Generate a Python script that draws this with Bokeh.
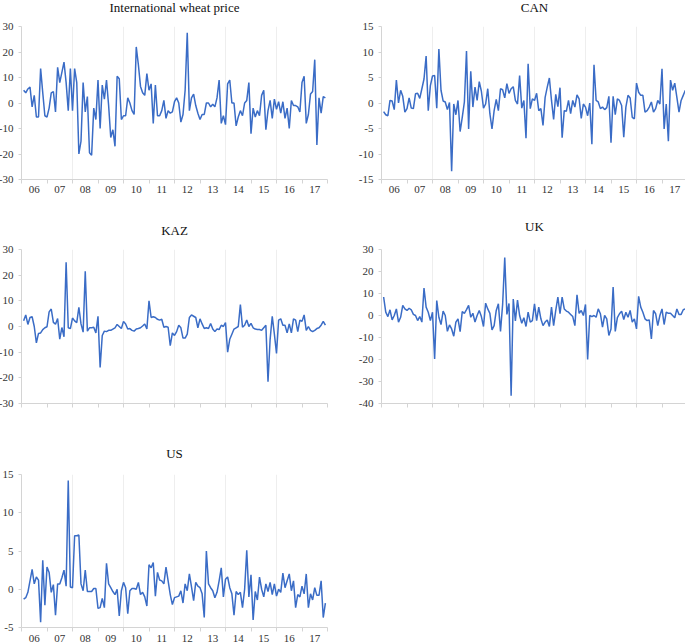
from bokeh.plotting import figure
from bokeh.layouts import column, row
from bokeh.models import Range1d, FixedTicker
from bokeh.embed import file_html
from bokeh.resources import INLINE

# ---- data: monthly changes, Feb 2006 .. Dec 2017 ----
start_year = 2006
first_month = 1  # 0 = January, so the series starts in February 2006
year_ticks = list(range(2006, 2019))
year_labels = ["06", "07", "08", "09", "10", "11", "12", "13", "14", "15", "16", "17"]

wheat = [5, 4, 5.5, 6.2, -1.5, 3, -5.5, -5.5, 13.5, 4, -5,
         -5.5, -2, 4, 4.5, -3.5, 14, 8, 12, 16, 8, -3, 13.5,
         -3, 13.5, 8, -20, -15, 8, -3.5, 2.5, -19.5, -20.5, -2, -6.5,
         9, -10, 7, 1.5, 9, -1, -13.5, -10.5, -17, 10.5, 9.5, -6.5,
         -5, -5, 2, 0, -3, -4.5, 22, 15, 6.5, 4, 3, 11.5,
         5, 7.5, -8, 7, -5, -5, -3, 1, -6, -3, -4, -3.5,
         0.5, 2, 0, -7.5, -4.5, 5, 27.5, -3, 2, 3.5, -1, -4,
         -6.5, -4.5, -4.5, 0, 0, -1.5, -0.5, -1.5, 2, 9, -8, -5,
         -8.5, 7.5, 9, 0, 0, -9, -5.5, -3, -5, 0, 1, 8,
         -12, -2, -5.5, -3, -5, 3, 5, -10.5, -3, 1, -6, 1.5,
         -2.5, 0.5, -4, 0.5, -6, -2, -10, 1, -1, -1, -1.5, -3.5,
         8, 10.5, -8, -4.5, 3.5, 4.5, 17, -16.5, 2, -4, 2.5, 2]

can = [-1.7, -2.3, -2.5, 0.5, 0.4, -1.3, 4.5, 0, 2.5, 1.3,
       -1.8, -1.1, 1, -1, -1.1, 1.8, 1.9, 0.9, 2.8, 4.7,
       9.2, -1.5, 3.4, 5.3, 5.4, -1, 10.6, 2.5, 0.4, 0.2,
       -1.3, 0.1, -13.4, -0.2, -2.3, 0.5, -5.6, -2.8, 0.2, 10.2,
       -5.1, 6.2, -0.8, 3.1, 0.5, 4.2, 2.3, -1, -0.2, 2.8,
       -2.1, -5.1, -1.5, 0.7, -1.5, 2.8, 2.6, 1, 3.8, 1.9,
       2.8, 3.2, 0.5, -0.2, 5.4, -1, 0.5, -6.9,
       7.7, -1.1, 0.8, 0.5, 1.9, -1.5, -1.1, -4.4, 1.1, 3.1,
       4.9, 0.5, -3.2, 1.7, -0.7, 3.0, -6.8, -1.5, -1.6, 0.5,
       -2.1, 0.5, -0.8, 1.6, 0.8, -3.0, -0.2, -0.8, -2.5, 0,
       -8.1, 7.5, 0.5, 0.2, -1.1, -0.8, -1.3, -0.9, 1.3, -7.8,
       1.3, -2.3, 0.8, 0.5, -0.5, -6.7, -0.8, 1.5, 1.0, -2.8,
       -3.1, 3.9, 2.1, 1.5, 1.5, -1.8, -1.5, -0.8, 0.2, -1.8,
       -1.1, 0.5, -0.2, 6.7, -5.1, -0.2, -7.5, 4.5, 2.5, 3.9,
       1.1, -1.8, 0.5, 1.5, 2.5]

kaz = [2.2, 4.5, 0.8, 3.5, 3.8, 0, -6.4, -2.7, -2.5, -1.2, -0.5,
       -0.1, 5.7, 6.8, 1.6, 0.9, 3.1, -4.9, -0.4, -4, 25, -0.5, -0.8,
       3.3, 2.2, 1.5, 7.5, 1, -2.2, 21.5, -1.8, -0.5, -0.5, -0.3, -2.5,
       4, -16, -3.5, -1.8, -2, -1.5, -1.5, -1, -0.5, 0.8, 0, -0.8,
       2, 1, -1, -0.8, -1.5, -1.8, -1, -0.8, -0.5, 0.2, 1, -1,
       10, 3.5, 3.8, 3.5, 2.8, 2.5, 2.8, -0.3, 0, -0.3, -7.5, -2.5,
       -3.5, -2, 0.5, -0.5, -4.5, -4.5, -3, 3.5, 4.5, 4, 3.5, -0.5,
       3, 1, -0.8, -0.5, -0.8, 1.2, -1, -2, -1, -1.2, 0.5, 0,
       1.5, -10, -5, -3, -1, -0.5, 0, 8.5, -0.3, 0.5, 2.5, 0,
       1.2, -0.5, -1, -1.2, -1.2, -1.5, -0.5, 0.5, -21.5, -5, 4, -3,
       -10.5, 2.5, 3, 0.5, 0.5, -2.5, 1, -2.5, 3, 2.5, -2, 2.5,
       2, 4.5, -1.5, 0, -1.5, -2, -1.5, -0.8, -0.5, 0.5, 2, 0.5]

uk = [8.4, 1.5, -0.5, 2.6, -2, 0, 3, -3, -0.8, 4.6, 3,
      2.3, 3.3, 2.6, 0.5, 0, -2.3, -0.5, -3, 12.5, 3.8, 1.5, -2.3,
      1.5, -19.8, 6.8, -0.8, -4.1, 2, 0, -7.2, -4.3, -6.1, -9.4, -3,
      -1.5, -7.3, 1.8, 1, 2.7, 4.6, -0.8, 1, -3, 0, 2.3, -0.5,
      -5, 5.6, 3, 1, -6.5, -4.6, 2.3, 5.3, -7.2, 5, 26.3, 0.5,
      5.5, -36.5, 7.5, -2.5, 7, 0, -3.5, -1, -5,
      1.5, -3, -2.3, 5.3, -2.3, 3.8, -1.5, -4.6, -3, -2,
      -5, 3.8, -4.6, 2.3, 8.4, 0.8, 8.4, 3, 2, 1.5,
      0.5, -0.5, -4.6, 9.4, 1, 2.3, 0, 5, -20, 0,
      -0.5, 0, -0.8, 3, 0.8, -5.3, 0, -1.5, -9.1, -6.1,
      12.9, -7.2, -1, 0.8, 2, -1.8, 1.5, -0.8, 2.3, -3,
      -1.5, -6.1, 8.7, 3.8, 1.5, -1.5, -2.3, -2, -10.7, 2.3,
      0.8, -4.6, 0, 3, -4.1, 1.5, 1, 1, 0, -1,
      3, 0.5, 0.5, 2.6, 3]

us = [-1.3, -1.1, -0.4, 1.1, 2.6, 0.7, 1.6, 1.2, -4.3, 3.8,
      -2.1, 2.9, 2.2, -0.4, 0.6, -3.4, 0.7, 0.7, 1.5, 2.5,
      0.4, 14.2, 0.3, 0.2, 7, 7, 7.1, 0.7, -0.2, 2.5,
      -0.3, -0.3, -0.3, 0.1, 0.1, -2.5, -2.4, -1.2, -2.4, 3.4,
      0.7, 0.2, -0.3, -0.7, 0, -3.5, -0.2, 0.9, 0.2, -3.2,
      -0.2, 0.1, 0.1, 0, 0.9, -0.7, -0.4, -1, -2.2, 3.2,
      2.8, 3.5, -0.9, 2.2, 1.2, 1.1, 0.7, 2.9, 1.1, -0.7,
      -2, -1.1,
      -1, -0.9, -0.2, -1.8, 0.7, -0.2, 2, 0.3, -1.5, 0.9,
      0.4, 0.2, -0.6, -3.7, 5, 0.7, 0.2, -0.2, -1.1, -0.4,
      1.1, 2.8, -1, 1.3, 1.6, 0.2, -0.6, -3.4, -0.3, -0.7,
      -0.4, -2.4, 0, 5.1, -1, 1.9, -4, -0.3, -1.4, 1.6,
      0, -1, 0.7, -0.3, 0.9, -0.7, 0.7, -0.9, 0, -0.4,
      2.1, 0.2, 1.1, 2, -0.2, 1.1, -2.4, -0.7, -1, 0.4,
      -0.6, 2, -2.4, -0.6, -1.4, 0.2, -0.8, -0.8, 1.1, -3.7,
      -1.8]

titles = ["International wheat price", "CAN", "KAZ", "UK", "US"]
y_limits = [(-30, 30, 10), (-15, 15, 5), (-30, 30, 10), (-40, 30, 10), (-5, 15, 5)]

LINE = "#3a6cc6"
AXIS = "#d4d4d4"
TEXT = "#333333"
FONT = "Liberation Serif"


def panel(title, values, lims, fw, fh, bl, br, bt, bb, xlabels, tstand, lstand):
    ylo, yhi, ystep = lims
    p = figure(frame_width=fw, frame_height=fh,
               min_border_left=bl, min_border_right=br,
               min_border_top=bt, min_border_bottom=bb,
               x_range=Range1d(year_ticks[0], year_ticks[-1]),
               y_range=Range1d(ylo, yhi),
               output_backend="svg", toolbar_location=None)
    xs = [start_year + (first_month + i) / 12 for i in range(len(values))]
    p.line(xs, values, line_color=LINE, line_width=1.5)

    p.title.text = title
    p.title.align = "center"
    p.title.text_font = FONT
    p.title.text_font_size = "13px"
    p.title.text_font_style = "normal"
    p.title.text_color = "#111111"
    p.title.standoff = tstand

    p.outline_line_color = None
    p.background_fill_color = "white"
    p.border_fill_color = "white"

    mids = [y + 0.5 for y in year_ticks[:-1]]
    if xlabels:
        p.xaxis.ticker = FixedTicker(ticks=mids, minor_ticks=year_ticks)
        p.xaxis.major_label_overrides = {m: lab for m, lab in zip(mids, year_labels)}
    else:
        p.xaxis.ticker = FixedTicker(ticks=[], minor_ticks=year_ticks)
    p.xaxis.major_tick_out = 0
    p.xaxis.major_tick_in = 0
    p.xaxis.minor_tick_out = 4
    p.xaxis.minor_tick_in = 0
    p.xaxis.minor_tick_line_color = AXIS
    p.xaxis.axis_line_color = AXIS
    p.xaxis.major_label_standoff = lstand

    yt = list(range(ylo, yhi + 1, ystep))
    p.yaxis.ticker = FixedTicker(ticks=yt)
    p.yaxis.major_label_overrides = {t: str(t) for t in yt}
    p.yaxis.major_tick_out = 3
    p.yaxis.major_tick_in = 0
    p.yaxis.minor_tick_out = 0
    p.yaxis.minor_tick_in = 0
    p.yaxis.major_tick_line_color = AXIS
    p.yaxis.axis_line_color = AXIS
    p.yaxis.major_label_standoff = 5

    for ax in (p.xaxis, p.yaxis):
        ax.major_label_text_font = FONT
        ax.major_label_text_font_size = "11px"
        ax.major_label_text_color = TEXT

    p.xgrid.ticker = FixedTicker(ticks=[2008, 2010, 2012, 2014, 2016])
    p.xgrid.grid_line_color = "#eeeeee"
    p.ygrid.visible = False
    return p


# frames: row 1 top at 26, row 2 top at 249, row 3 top at 474 (page pixels)
p1 = panel(titles[0], wheat, y_limits[0], 306, 153, 29, 28, 41, 21, True, 24, 2)
p2 = panel(titles[1], can, y_limits[1], 306, 153, 23, 1, 41, 21, True, 24, 2)
p3 = panel(titles[2], kaz, y_limits[2], 306, 154, 29, 28, 49, 27, False, 24, 2)
p4 = panel(titles[3], uk, y_limits[3], 306, 154, 23, 1, 49, 27, False, 32, 2)
p5 = panel(titles[4], us, y_limits[4], 306, 153, 29, 28, 44, 17, True, 27, 3)

layout = column(row(p1, p2), row(p3, p4), p5, margin=(-15, 0, -8, -8))

open("out.html", "w").write(file_html(layout, INLINE))
